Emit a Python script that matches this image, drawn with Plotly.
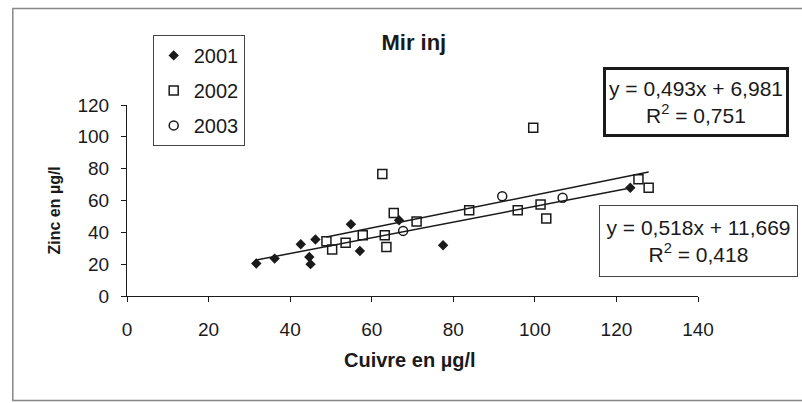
import plotly.graph_objects as go

# ---- data ----
cu_2001 = [31.7, 36.2, 42.6, 44.7, 45.0, 46.2, 54.9, 57.1, 66.7, 77.5, 123.4]
zn_2001 = [20.4, 23.5, 32.5, 24.5, 20.0, 35.5, 45.1, 28.3, 47.6, 31.9, 68.0]

cu_2002 = [62.6, 48.9, 50.3, 53.6, 57.8, 63.2, 63.6, 65.4, 71.0, 83.9, 99.6, 95.8, 101.4, 102.8, 125.4, 127.9]
zn_2002 = [76.6, 34.4, 29.2, 33.4, 38.2, 38.2, 30.8, 52.2, 46.8, 53.9, 105.7, 53.9, 57.5, 48.7, 73.3, 68.0]

cu_2003 = [67.7, 92.0, 106.8]
zn_2003 = [40.9, 62.7, 61.7]

# trend lines (equations printed on the chart)
slope_a, icpt_a, r2_a = 0.493, 6.981, 0.751   # lower line (2001 range)
slope_b, icpt_b, r2_b = 0.518, 11.669, 0.418  # upper line (2002 range)

x_ticks = [0, 20, 40, 60, 80, 100, 120, 140]
y_ticks = [0, 20, 40, 60, 80, 100, 120]

FONT = "Liberation Sans, Arial, sans-serif"
INK = "#1a1a1a"

fig = go.Figure()

fig.add_trace(go.Scatter(x=cu_2001, y=zn_2001, mode="markers", name="2001", legendgroup="a",
                         marker=dict(symbol="diamond", size=8, color=INK, line=dict(width=0))))
fig.add_trace(go.Scatter(x=cu_2002, y=zn_2002, mode="markers", name="2002", legendgroup="b",
                         marker=dict(symbol="square-open", size=9, color=INK, line=dict(width=1.5))))
fig.add_trace(go.Scatter(x=cu_2003, y=zn_2003, mode="markers", name="2003", legendgroup="c",
                         marker=dict(symbol="circle-open", size=9, color=INK, line=dict(width=1.5))))

xa = [min(cu_2001), max(cu_2001)]
fig.add_trace(go.Scatter(x=xa, y=[slope_a * v + icpt_a for v in xa], mode="lines",
                         line=dict(color=INK, width=1.5), showlegend=False, hoverinfo="skip"))
xb = [min(cu_2002), max(cu_2002)]
fig.add_trace(go.Scatter(x=xb, y=[slope_b * v + icpt_b for v in xb], mode="lines",
                         line=dict(color=INK, width=1.5), showlegend=False, hoverinfo="skip"))

def fmt(v, d=3):
    return f"{v:.{d}f}".replace(".", ",")

annotations = [
    dict(text=f"y = {fmt(slope_a)}x + {fmt(icpt_a)}<br>R<sup>2</sup> = {fmt(r2_a)}",
         xref="paper", yref="paper", x=0.9967, y=1.0157, xanchor="center", yanchor="middle",
         showarrow=False, font=dict(family=FONT, size=21, color=INK), align="center",
         bordercolor=INK, borderwidth=3, borderpad=2, bgcolor="white", width=176, height=60),
    dict(text=f"y = {fmt(slope_b)}x + {fmt(icpt_b)}<br>R<sup>2</sup> = {fmt(r2_b)}",
         xref="paper", yref="paper", x=1.0005, y=0.2868, xanchor="center", yanchor="middle",
         showarrow=False, font=dict(family=FONT, size=21, color=INK), align="center",
         bordercolor="#444", borderwidth=1, borderpad=2, bgcolor="white", width=193, height=66),
    dict(text="<b>Zinc en µg/l</b>", xref="paper", yref="paper", x=-0.127, y=0.45,
         xanchor="center", yanchor="middle",
         textangle=-90, showarrow=False, font=dict(family=FONT, size=16, color=INK)),
    dict(text="<b>Cuivre en µg/l</b>", xref="paper", yref="paper", x=0.4954, y=-0.337,
         xanchor="center", yanchor="middle",
         showarrow=False, font=dict(family=FONT, size=20, color=INK)),
]

fig.update_layout(
    width=802, height=403,
    margin=dict(l=126.5, r=104.3, t=105, b=107.3),
    paper_bgcolor="white", plot_bgcolor="white",
    title=dict(text="<b>Mir inj</b>", x=0.516, xref="container", y=1 - 42 / 403, yanchor="middle",
               xanchor="center", font=dict(family=FONT, size=22, color=INK)),
    font=dict(family=FONT, color=INK),
    showlegend=True,
    legend=dict(x=0.045, y=1.367, xanchor="left", yanchor="top", bgcolor="white",
                bordercolor="#444", borderwidth=1, font=dict(family=FONT, size=20, color=INK),
                tracegroupgap=6, itemwidth=30),
    annotations=annotations,
    shapes=[dict(type="rect", xref="paper", yref="paper", x0=-0.2, x1=1.2, y0=-0.547, y1=1.505,
                 line=dict(color="#888", width=1.5), layer="above")],
)

fig.update_xaxes(range=[0, 140], tickvals=x_ticks, ticktext=[str(v) for v in x_ticks],
                 showgrid=False, zeroline=False, showline=True, linecolor=INK, linewidth=1,
                 ticks="outside", ticklen=5, tickcolor=INK, tickfont=dict(family=FONT, size=19, color=INK),
                 ticklabelstandoff=11)
fig.update_yaxes(range=[0, 120], tickvals=y_ticks, ticktext=[str(v) for v in y_ticks],
                 showgrid=False, zeroline=False, showline=True, linecolor=INK, linewidth=1,
                 ticks="outside", ticklen=5, tickcolor=INK, tickfont=dict(family=FONT, size=19, color=INK),
                 ticklabelstandoff=8)

fig.write_html("out.html", config={"displayModeBar": False},
               post_script="document.body.style.margin='0';document.body.style.overflow='hidden';")
